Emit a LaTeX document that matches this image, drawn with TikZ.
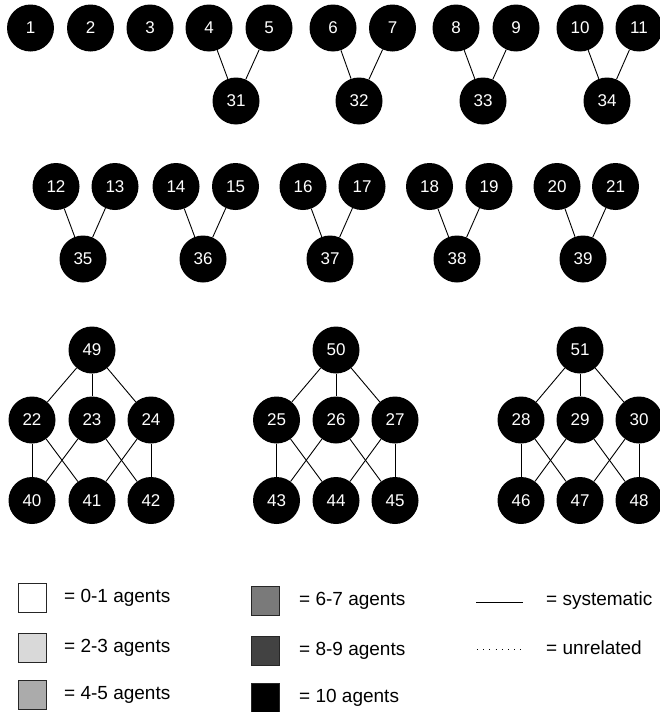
\documentclass[tikz,border=0pt]{standalone}
\usepackage{fontspec}
\setmainfont{Liberation Sans}
\begin{document}
\begin{tikzpicture}[x=1pt,y=-1pt,
  agent/.style={circle,fill=black,minimum size=47pt,inner sep=0pt,text=white,font=\fontsize{17}{17}\selectfont},
  link/.style={line width=0.9pt,black},
  keybox/.style={draw=black!85,line width=0.9pt,minimum width=28pt,minimum height=29pt,inner sep=0pt},
  keytext/.style={anchor=west,inner sep=0pt,font=\fontsize{19}{19}\selectfont}]
\useasboundingbox (0,0) rectangle (660,712);
% row 1
\foreach \n/\x in {1/30.5,2/90.5,3/150,4/209,5/269,6/333,7/392.5,8/456,9/516,10/580,11/639}
  \node[agent] (n\n) at (\x,28) {\n};
\foreach \n/\x in {31/236,32/359,33/483,34/607}
  \node[agent] (n\n) at (\x,101) {\n};
% row 2
\foreach \n/\x in {12/56,13/115,14/176,15/235.5,16/303,17/362,18/429.5,19/489,20/557,21/615.5}
  \node[agent] (n\n) at (\x,186.5) {\n};
\foreach \n/\x in {35/83,36/203,37/330,38/457,39/583}
  \node[agent] (n\n) at (\x,259) {\n};
% row 3
\foreach \n/\x in {49/92,50/336,51/580}
  \node[agent] (n\n) at (\x,350) {\n};
\foreach \n/\x in {22/32,23/92,24/151,25/276.5,26/336,27/395,28/521,29/580,30/639}
  \node[agent] (n\n) at (\x,420) {\n};
\foreach \n/\x in {40/32,41/92,42/151,43/276.5,44/336,45/395,46/521,47/580,48/639}
  \node[agent] (n\n) at (\x,500.5) {\n};
% pair links
\foreach \a/\b/\c in {4/5/31,6/7/32,8/9/33,10/11/34,12/13/35,14/15/36,16/17/37,18/19/38,20/21/39}{
  \draw[link] (n\a) -- (n\c);
  \draw[link] (n\b) -- (n\c);
}
% three-level groups
\foreach \t/\a/\b/\c/\d/\e/\f in {49/22/23/24/40/41/42,50/25/26/27/43/44/45,51/28/29/30/46/47/48}{
  \draw[link] (n\t) -- (n\a);
  \draw[link] (n\t) -- (n\b);
  \draw[link] (n\t) -- (n\c);
  \draw[link] (n\a) -- (n\d);
  \draw[link] (n\a) -- (n\e);
  \draw[link] (n\b) -- (n\d);
  \draw[link] (n\b) -- (n\f);
  \draw[link] (n\c) -- (n\e);
  \draw[link] (n\c) -- (n\f);
}
% legend
\node[keybox,fill=white] (k1) at (32,598) {};
\node[keybox,fill=black!15] (k2) at (32,647.5) {};
\node[keybox,fill=black!33] (k3) at (32,695) {};
\node[keybox,fill=black!52] (k4) at (265.5,601) {};
\node[keybox,fill=black!74] (k5) at (265.5,650.5) {};
\node[keybox,fill=black] (k6) at (265.5,697.5) {};
\node[keytext] (t1) at (64,598) {= 0-1 agents};
\node[keytext] (t2) at (64,647.5) {= 2-3 agents};
\node[keytext] (t3) at (64,695) {= 4-5 agents};
\node[keytext] (t4) at (299,601) {= 6-7 agents};
\node[keytext] (t5) at (299,650.5) {= 8-9 agents};
\node[keytext] (t6) at (299,697.5) {= 10 agents};
\coordinate (s1) at (476,602);
\coordinate (s2) at (523,602);
\coordinate (u1) at (477,649);
\coordinate (u2) at (521,649);
\draw[line width=0.9pt] (s1) -- (s2);
\draw[line width=0.9pt,dash pattern=on 1pt off 5.2pt] (u1) -- (u2);
\node[keytext] (t7) at (546,601) {= systematic};
\node[keytext] (t8) at (546,648) {= unrelated};
\end{tikzpicture}
\end{document}
